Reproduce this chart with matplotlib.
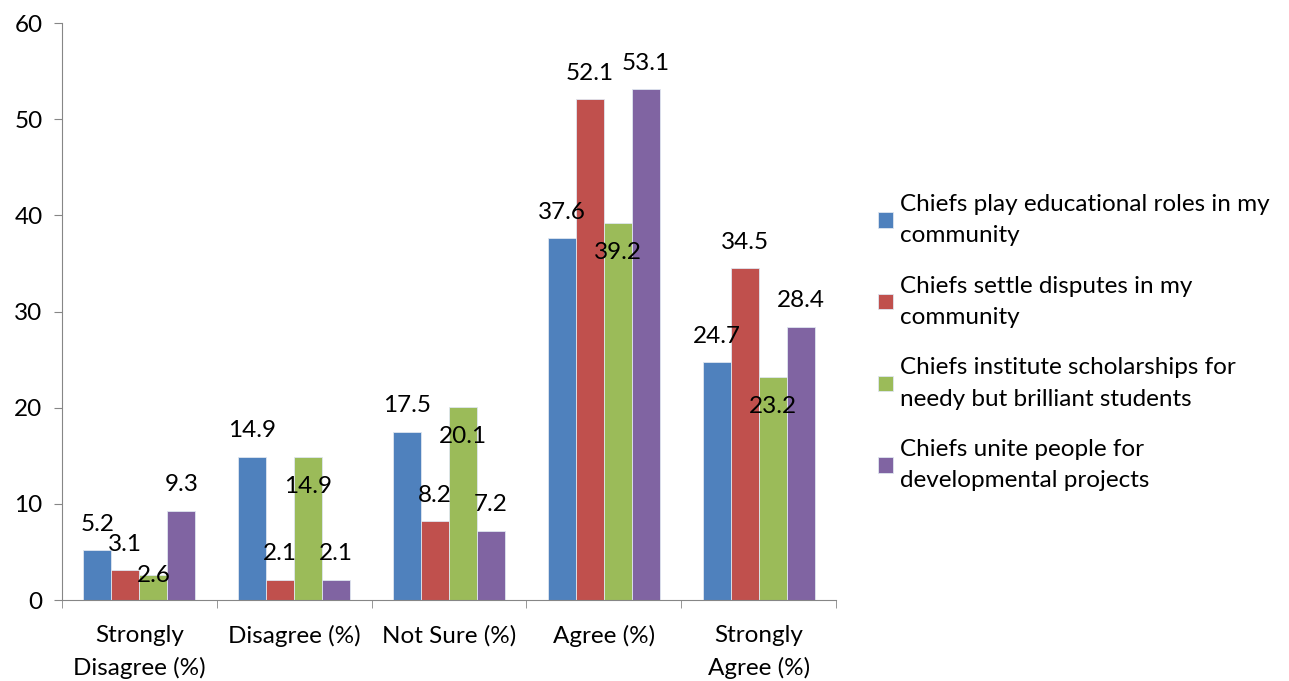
"""Bar chart: views on the roles of chiefs in the community."""

import matplotlib.pyplot as plt
import numpy as np

plt.rcParams["font.family"] = ["Lato", "DejaVu Sans"]

categories = ["Strongly\nDisagree (%)", "Disagree (%)", "Not Sure (%)", "Agree (%)", "Strongly\nAgree (%)"]
series_names = [
    "Chiefs play educational roles in my\ncommunity",
    "Chiefs settle disputes in my\ncommunity",
    "Chiefs institute scholarships for\nneedy but brilliant students",
    "Chiefs unite people for\ndevelopmental projects",
]
educational = [5.2, 14.9, 17.5, 37.6, 24.7]
disputes = [3.1, 2.1, 8.2, 52.1, 34.5]
scholarships = [2.6, 14.9, 20.1, 39.2, 23.2]
unite = [9.3, 2.1, 7.2, 53.1, 28.4]
y_ticks = [0, 10, 20, 30, 40, 50, 60]

colors = ["#4F81BD", "#C0504D", "#9BBB59", "#8064A2"]
# where each value label sits relative to its bar top (data units)
label_offsets = [
    [2.7, 2.7, 2.7, 2.7, 2.7],
    [2.7, 2.7, 2.7, 2.7, 2.7],
    [0.0, -3.1, -3.1, -3.1, -3.1],
    [2.7, 2.7, 2.7, 2.7, 2.7],
]
FONT_SIZE = 17.5
LINE_SPACING = 1.6


def main() -> None:
    fig = plt.figure(figsize=(12.89, 6.81), dpi=100)
    ax = fig.add_axes([0.0481, 0.1189, 0.6005, 0.8473])

    x = np.arange(len(categories))
    width = 0.181
    all_series = [educational, disputes, scholarships, unite]
    for i, (values, name, color) in enumerate(zip(all_series, series_names, colors)):
        pos = x + (i - 1.5) * width
        ax.bar(pos, values, width, color=color, edgecolor="#dfe6f0", linewidth=0.6, label=name, zorder=2)
        for px, val, off in zip(pos, values, label_offsets[i]):
            ax.text(px, val + off, f"{val:.1f}", ha="center", va="center",
                    fontsize=FONT_SIZE, color="black", zorder=3)

    ax.set_xlim(-0.5, len(categories) - 0.5)
    ax.set_ylim(0, 60)
    ax.set_yticks(y_ticks)
    ax.tick_params(axis="y", labelsize=FONT_SIZE, length=6, color="#868686", pad=8)

    ax.set_xticks(x)
    ax.set_xticklabels(categories, fontsize=FONT_SIZE, linespacing=LINE_SPACING)
    ax.set_xticks(np.arange(len(categories) + 1) - 0.5, minor=True)
    ax.tick_params(axis="x", which="major", length=0, pad=18)
    ax.tick_params(axis="x", which="minor", length=6, color="#868686")

    for side in ("top", "right"):
        ax.spines[side].set_visible(False)
    for side in ("left", "bottom"):
        ax.spines[side].set_color("#868686")

    leg = ax.legend(
        loc="center left",
        bbox_to_anchor=(0.664, 0.497),
        bbox_transform=fig.transFigure,
        frameon=False,
        fontsize=FONT_SIZE,
        handlelength=0.62,
        handleheight=0.62,
        handletextpad=0.3,
        labelspacing=1.22,
    )
    for t in leg.get_texts():
        t.set_linespacing(LINE_SPACING)

    fig.savefig("out.png", dpi=100)
    plt.close(fig)


if __name__ == "__main__":
    main()
